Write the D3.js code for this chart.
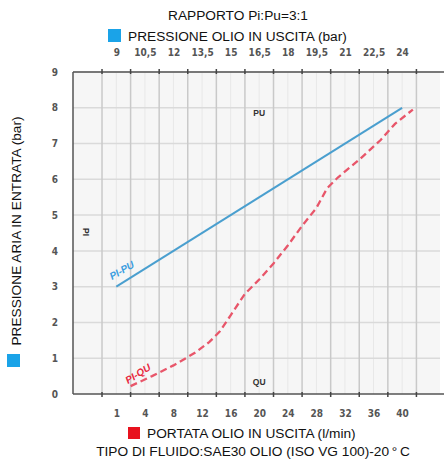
<!DOCTYPE html>
<html><head><meta charset="utf-8">
<script src="https://cdn.jsdelivr.net/npm/d3@7"></script>
<style>body{margin:0;background:#fff}svg{display:block}text{font-family:"Liberation Sans",Arial,sans-serif}</style>
</head><body><svg id="c" width="444" height="460"></svg>
<script>
// ---- data ----
const flowLabels = ["1","4","8","12","16","20","24","28","32","36","40"];
const flowTickPos = [0,4,8,12,16,20,24,28,32,36,40];   // l/min position of each label
const pressureOutTicks = [9,10.5,12,13.5,15,16.5,18,19.5,21,22.5,24];
const inletTicks = [0,1,2,3,4,5,6,7,8,9];
// PI-PU : outlet oil pressure (bar) vs inlet air pressure (bar)
const piPuOut = [9, 24];
const piPuIn  = [3, 8];
// PI-QU : outlet oil flow (l/min) vs inlet air pressure (bar)
const piQuFlow = [2, 5, 8, 11, 13, 14.5, 16, 18, 20, 22, 24, 26, 28, 29.5, 31, 34, 37, 39, 41.5];
const piQuIn   = [0.22, 0.5, 0.8, 1.15, 1.45, 1.75, 2.2, 2.8, 3.2, 3.65, 4.15, 4.7, 5.2, 5.75, 6.05, 6.55, 7.1, 7.55, 7.95];

const svg = d3.select("#c");
const L = 73, R = 440, T = 72, B = 394;
const x = d3.scaleLinear().domain([-6.06, 45.3]).range([L, R]);
const xp = d3.scaleLinear().domain([9, 24]).range([x(0), x(40)]);
const y = d3.scaleLinear().domain([0, 9]).range([B, T]);

// background
svg.append("rect").attr("x", L).attr("y", T).attr("width", R - L).attr("height", B - T).attr("fill", "#f6f6f6");

// minor vertical grid (label positions)
const g = svg.append("g");
flowTickPos.forEach(q => g.append("line").attr("x1", x(q)).attr("x2", x(q)).attr("y1", T).attr("y2", B).attr("stroke", "#e8e8e8").attr("stroke-width", 1));
// horizontal grid
inletTicks.slice(1).forEach(v => g.append("line").attr("x1", L).attr("x2", R).attr("y1", y(v)).attr("y2", y(v)).attr("stroke", "#dadada").attr("stroke-width", 1.5));
// major vertical grid
const majors = d3.range(-2, 43, 4);
majors.forEach(q => g.append("line").attr("x1", x(q)).attr("x2", x(q)).attr("y1", T).attr("y2", B).attr("stroke", "#c9c9c9").attr("stroke-width", 1.5));

// axes lines
svg.append("line").attr("x1", L).attr("x2", R + 4).attr("y1", T).attr("y2", T).attr("stroke", "#555").attr("stroke-width", 1.5);
svg.append("line").attr("x1", L).attr("x2", R + 4).attr("y1", B).attr("y2", B).attr("stroke", "#555").attr("stroke-width", 1.5);
svg.append("line").attr("x1", L).attr("x2", L).attr("y1", T).attr("y2", B).attr("stroke", "#555").attr("stroke-width", 1.5);
majors.forEach(q => {
  svg.append("line").attr("x1", x(q)).attr("x2", x(q)).attr("y1", T - 3).attr("y2", T + 2).attr("stroke", "#444").attr("stroke-width", 1.5);
  svg.append("line").attr("x1", x(q)).attr("x2", x(q)).attr("y1", B - 2).attr("y2", B + 3).attr("stroke", "#444").attr("stroke-width", 1.5);
});

// axis labels via d3 axes
const tickFont = g2 => g2.call(s => s.select(".domain").remove())
  .selectAll("text").attr("font-size", 10).attr("font-weight", "bold").attr("fill", "#555")
  .style("font-family", '"DejaVu Sans Condensed","DejaVu Sans",sans-serif');

svg.append("g").attr("transform", `translate(0,${B + 13})`)
  .call(d3.axisBottom(x).tickValues(flowTickPos).tickSize(0).tickFormat((d, i) => flowLabels[i]))
  .call(tickFont);
svg.append("g").attr("transform", `translate(0,${T - 13})`)
  .call(d3.axisTop(xp).tickValues(pressureOutTicks).tickSize(0).tickFormat(d => String(d).replace(".", ",")))
  .call(tickFont);
svg.append("g").attr("transform", `translate(${L - 12},0)`)
  .call(d3.axisLeft(y).tickValues(inletTicks).tickSize(0))
  .call(tickFont);

// series
const line = d3.line();
svg.append("path")
  .attr("d", line(piPuOut.map((p, i) => [xp(p), y(piPuIn[i])])))
  .attr("fill", "none").attr("stroke", "#4a9fcf").attr("stroke-width", 2);
svg.append("path")
  .attr("d", line(piQuFlow.map((q, i) => [x(q), y(piQuIn[i])])))
  .attr("fill", "none").attr("stroke", "#e8566a").attr("stroke-width", 2.3).attr("stroke-dasharray", "7,4");

// series labels
svg.append("text").attr("transform", `translate(112,280) rotate(-30)`)
  .attr("font-size", 10).attr("font-weight", "bold").attr("font-style", "italic").attr("fill", "#3b9ee0").text("PI-PU");
svg.append("text").attr("transform", `translate(128,384) rotate(-32)`)
  .attr("font-size", 10).attr("font-weight", "bold").attr("font-style", "italic").attr("fill", "#e8283e").text("PI-QU");

// inner axis markers
const mk = (t, xx, yy, rot) => svg.append("text").attr("transform", `translate(${xx},${yy}) rotate(${rot || 0})`)
  .attr("text-anchor", "middle").attr("font-size", 8.5).attr("font-weight", "bold").attr("fill", "#333").text(t);
mk("PU", x(20), 116);
mk("QU", x(20), 385);
mk("PI", 83, 232, 90);

// titles
const fs = 13.7;
svg.append("text").attr("x", 238).attr("y", 20).attr("text-anchor", "middle").attr("font-size", fs).attr("fill", "#111").text("RAPPORTO Pi:Pu=3:1");
svg.append("rect").attr("x", 108).attr("y", 29).attr("width", 13).attr("height", 13).attr("fill", "#1aa3e8");
svg.append("text").attr("x", 128).attr("y", 41).attr("font-size", fs).attr("fill", "#111").text("PRESSIONE OLIO IN USCITA (bar)");

svg.append("rect").attr("x", 128).attr("y", 427).attr("width", 12).attr("height", 12).attr("fill", "#e8121e");
svg.append("text").attr("x", 147).attr("y", 438).attr("font-size", fs).attr("fill", "#111").text("PORTATA OLIO IN USCITA (l/min)");
svg.append("text").attr("x", 253).attr("y", 456).attr("text-anchor", "middle").attr("font-size", fs).attr("fill", "#111").text("TIPO DI FLUIDO:SAE30 OLIO (ISO VG 100)-20\u2009°\u2009C");

svg.append("text").attr("transform", "translate(21,231) rotate(-90)").attr("text-anchor", "middle").attr("font-size", fs).attr("fill", "#111").text("PRESSIONE ARIA IN ENTRATA (bar)");
svg.append("rect").attr("x", 7).attr("y", 354).attr("width", 13).attr("height", 13).attr("fill", "#1aa3e8");
</script></body></html>
